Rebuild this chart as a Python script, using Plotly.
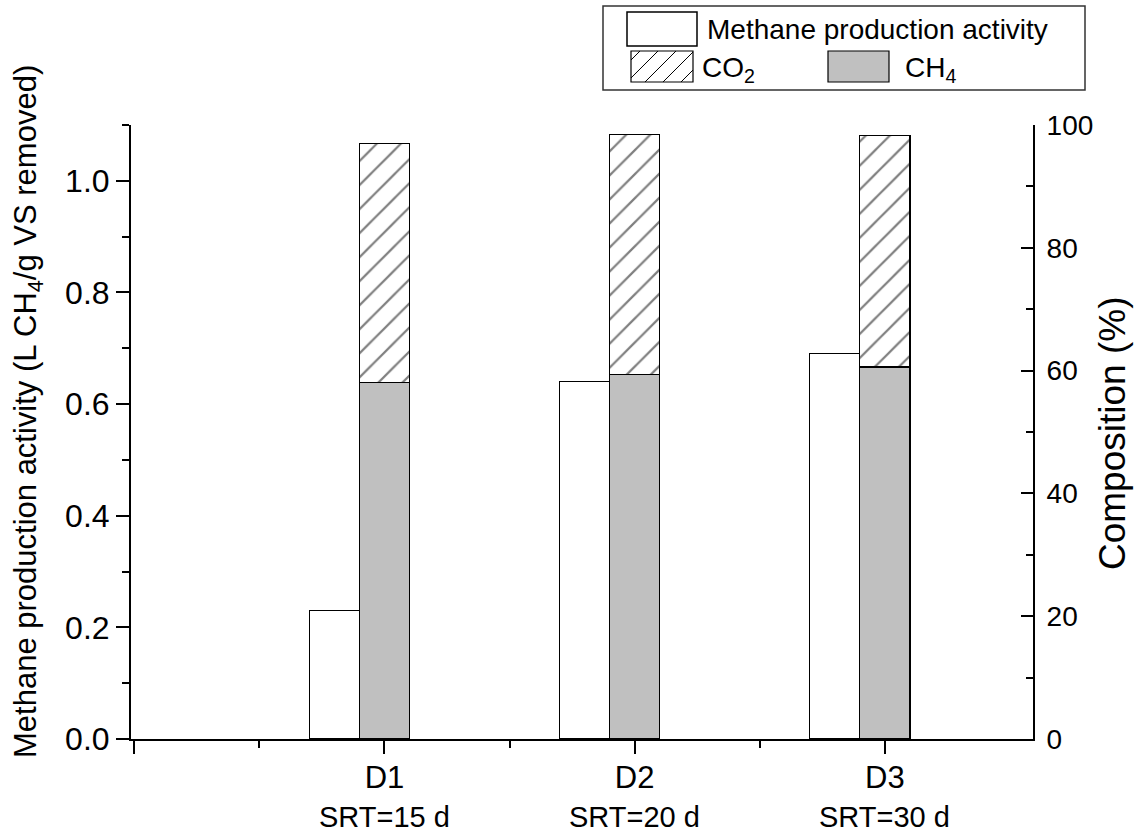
import numpy as np
import plotly.graph_objects as go

# ---------------- data ----------------
categories = ["D1", "D2", "D3"]
srt_labels = ["SRT=15 d", "SRT=20 d", "SRT=30 d"]
cat_pos = [1, 2, 3]
activity = [0.23, 0.64, 0.69]          # L CH4 / g VS removed
ch4_pct = [58.0, 59.4, 60.6]           # composition %
co2_pct = [39.0, 39.1, 37.7]           # composition %

left_ticks = [0.0, 0.2, 0.4, 0.6, 0.8, 1.0]
right_ticks = [0, 20, 40, 60, 80, 100]

# ---------------- geometry ----------------
W, H = 1139, 838
L, R, T, B = 131, 1033, 125, 739
FONT = "'Liberation Sans', Arial, sans-serif"


def px(x):
    return (x - L) / (R - L)


def py(y):
    return (B - y) / (B - T)


fig = go.Figure()

fig.add_bar(
    x=cat_pos, y=activity, width=0.2, offset=-0.3, yaxis="y",
    marker=dict(color="white", line=dict(color="black", width=1.2)),
    showlegend=False, name="Methane production activity",
)
fig.add_bar(
    x=cat_pos, y=ch4_pct, width=0.2, offset=-0.1, yaxis="y2",
    marker=dict(color="#C0C0C0", line=dict(color="black", width=1.2)),
    showlegend=False, name="CH4",
)
fig.add_bar(
    x=cat_pos, y=co2_pct, width=0.2, offset=-0.1, yaxis="y2",
    marker=dict(color="white", line=dict(color="black", width=1.2),
                pattern=dict(shape="/", fgcolor="black", bgcolor="white",
                             size=17, solidity=0.13)),
    showlegend=False, name="CO2",
)

fig.update_layout(
    width=W, height=H,
    margin=dict(l=L, r=W - R, t=T, b=H - B, pad=0),
    plot_bgcolor="white", paper_bgcolor="white",
    font=dict(family=FONT, color="black"),
    barmode="stack",
    xaxis=dict(
        range=[-0.013, 3.592], showgrid=False, zeroline=False,
        showline=True, linecolor="black", linewidth=2,
        ticks="outside", ticklen=13, tickwidth=2, tickcolor="black",
        tickvals=[0] + cat_pos, ticktext=[""] + categories,
        tickfont=dict(size=31), ticklabelstandoff=-3,
        minor=dict(tickvals=[0.5, 1.5, 2.5], ticks="outside", ticklen=7,
                   tickwidth=2, tickcolor="black", showgrid=False),
    ),
    yaxis=dict(
        range=[0, 1.1], showgrid=False, zeroline=False,
        showline=True, linecolor="black", linewidth=2,
        ticks="outside", ticklen=13, tickwidth=2, tickcolor="black",
        tickvals=left_ticks, ticktext=[f"{v:.1f}" for v in left_ticks],
        tickfont=dict(size=32),
        minor=dict(tickvals=list(np.round(np.arange(0.1, 1.15, 0.2), 2)),
                   ticks="outside", ticklen=7, tickwidth=2,
                   tickcolor="black", showgrid=False),
    ),
    yaxis2=dict(
        overlaying="y", side="right", range=[0, 100],
        showgrid=False, zeroline=False,
        showline=True, linecolor="black", linewidth=2,
        ticks="inside", ticklen=12, tickwidth=2, tickcolor="black",
        tickvals=right_ticks, tickfont=dict(size=28),
        ticklabelstandoff=6,
        minor=dict(tickvals=[10, 30, 50, 70, 90], ticks="inside", ticklen=7,
                   tickwidth=2, tickcolor="black", showgrid=False),
    ),
)

# SRT sub-labels under categories
for pos, s in zip(cat_pos, srt_labels):
    fig.add_annotation(text=s, xref="x", yref="paper", x=pos, y=py(817),
                       xanchor="center", yanchor="middle", showarrow=False,
                       font=dict(size=29))

# axis titles
fig.add_annotation(
    text="Methane production activity (L CH<sub>4</sub>/g VS removed)",
    xref="paper", yref="paper", x=px(28), y=py(412), textangle=-90,
    showarrow=False, font=dict(size=31), xanchor="center", yanchor="middle",
)
fig.add_annotation(
    text="Composition (%)",
    xref="paper", yref="paper", x=px(1112), y=py(434), textangle=-90,
    showarrow=False, font=dict(size=37), xanchor="center", yanchor="middle",
)

# ---------------- manual legend ----------------
shapes = []
shapes.append(dict(type="rect", xref="paper", yref="paper",
                   x0=px(603), x1=px(1085), y0=py(90), y1=py(6),
                   line=dict(color="#333333", width=1.5), fillcolor="white"))
shapes.append(dict(type="rect", xref="paper", yref="paper",
                   x0=px(627), x1=px(697), y0=py(46), y1=py(12),
                   line=dict(color="black", width=1.5), fillcolor="white"))
shapes.append(dict(type="rect", xref="paper", yref="paper",
                   x0=px(828), x1=px(889), y0=py(82), y1=py(51),
                   line=dict(color="black", width=1.2), fillcolor="#C0C0C0"))
# hatched swatch
hx0, hx1, hy0, hy1 = 631, 693, 51, 82
shapes.append(dict(type="rect", xref="paper", yref="paper",
                   x0=px(hx0), x1=px(hx1), y0=py(hy1), y1=py(hy0),
                   line=dict(color="black", width=1.2), fillcolor="white"))
path = ""
c = hx0 + hy0 + 9
while c < hx1 + hy1:
    xa = max(hx0, c - hy1)
    xb = min(hx1, c - hy0)
    if xb > xa:
        path += f"M{px(xa):.5f},{py(c - xa):.5f} L{px(xb):.5f},{py(c - xb):.5f} "
    c += 18
shapes.append(dict(type="path", xref="paper", yref="paper", path=path,
                   line=dict(color="black", width=1)))
fig.update_layout(shapes=shapes)

fig.add_annotation(text="Methane production activity", xref="paper", yref="paper",
                   x=px(705), y=py(30), xanchor="left", yanchor="middle",
                   showarrow=False, font=dict(size=28))
fig.add_annotation(text="CO<sub>2</sub>", xref="paper", yref="paper",
                   x=px(700), y=py(70), xanchor="left", yanchor="middle",
                   showarrow=False, font=dict(size=28))
fig.add_annotation(text="CH<sub>4</sub>", xref="paper", yref="paper",
                   x=px(903), y=py(70), xanchor="left", yanchor="middle",
                   showarrow=False, font=dict(size=28))

fig.write_html("out.html")
